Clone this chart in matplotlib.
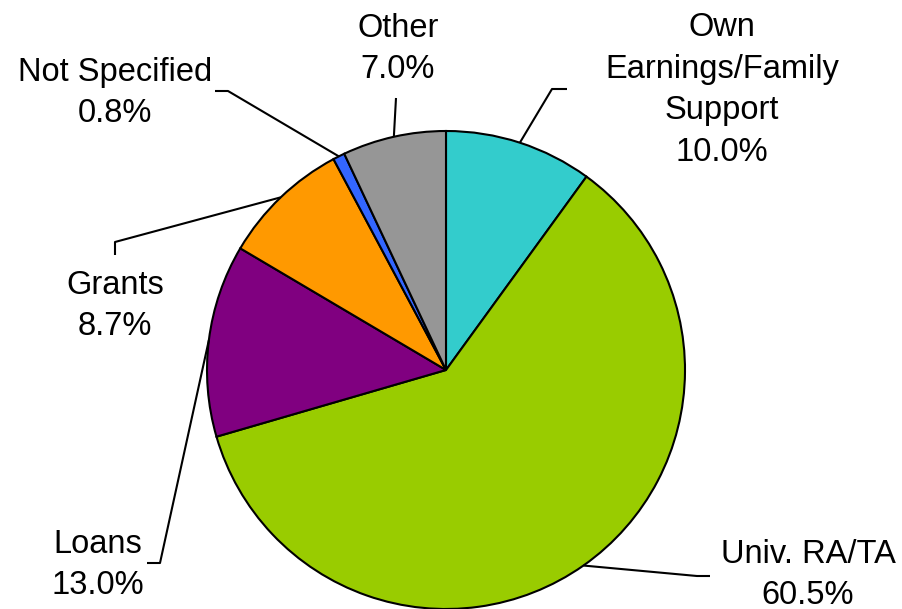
#!/usr/bin/env python3

import numpy as np
import matplotlib
matplotlib.use("Agg")
import matplotlib.pyplot as plt

categories = ["Own\nEarnings/Family\nSupport", "Univ. RA/TA", "Loans", "Grants", "Not Specified", "Other"]
shares = [10.0, 60.5, 13.0, 8.7, 0.8, 7.0]
colors = ["#33CCCC", "#99CC00", "#800080", "#FF9900", "#3366FF", "#969696"]

# label block centre (pixels, top-left origin) and leader elbow points
label_pos = [(722, 90), (808, 575), (98, 565), (115, 306), (115, 93), (398, 49)]
elbows = [[(567, 89), (552, 89)],
          [(710, 576), (697, 576)],
          [(147, 563), (160, 563)],
          [(115, 255), (115, 242)],
          [(215, 91), (228, 91)],
          [(396, 98)]]

W, H = 902, 609
cx, cy, r = 446, 370, 239

plt.rcParams['font.family'] = ['Liberation Sans', 'DejaVu Sans']

fig = plt.figure(figsize=(W / 100, H / 100), dpi=100)
ax = fig.add_axes([0, 0, 1, 1])

wedges, _ = ax.pie(shares, colors=colors, startangle=90, counterclock=False,
                   center=(cx, H - cy), radius=r,
                   wedgeprops=dict(edgecolor="black", linewidth=1.5))
ax.set_xlim(0, W)
ax.set_ylim(0, H)
ax.set_aspect("equal")
ax.axis("off")

for w, lab, val, (lx, ly), elb in zip(wedges, categories, shares, label_pos, elbows):
    mid = np.deg2rad((w.theta1 + w.theta2) / 2)
    ex = cx + r * np.cos(mid)
    ey = (H - cy) + r * np.sin(mid)
    xs = [p[0] for p in elb] + [ex]
    ys = [H - p[1] for p in elb] + [ey]
    ax.plot(xs, ys, color="black", lw=1.5, solid_capstyle="butt", zorder=3)
    ax.text(lx, H - ly, f"{lab}\n{val:.1f}%", ha="center", va="center",
            fontsize=23.5, linespacing=1.45)

fig.savefig("out.png", dpi=100)
